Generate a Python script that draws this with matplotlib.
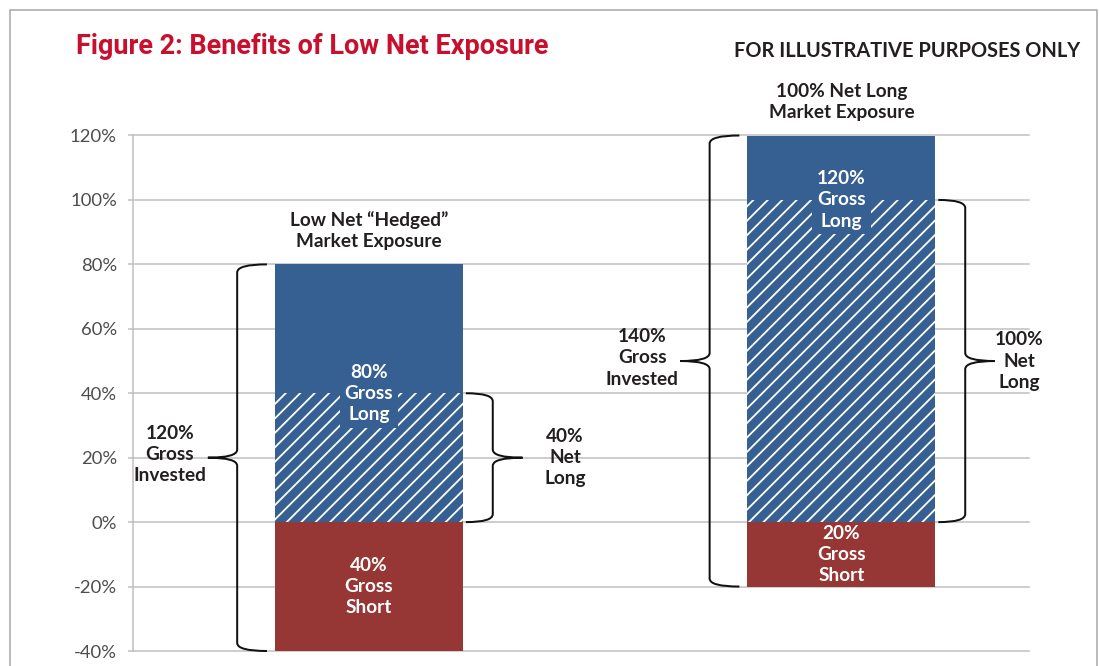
import numpy as np
import matplotlib
matplotlib.use('Agg')
import matplotlib.pyplot as plt
from matplotlib.path import Path
from matplotlib.patches import PathPatch, Rectangle

# donnees
strategies = ['Low Net \u201cHedged\u201d\nMarket Exposure', '100% Net Long\nMarket Exposure']
gross_long = np.array([80, 120])
gross_short = np.array([40, 20])
net_long = gross_long - gross_short
gross_invested = gross_long + gross_short
y_ticks = [-40, -20, 0, 20, 40, 60, 80, 100, 120]

DPI = 130
PT = 72 / DPI  # points par pixel

BLUE = '#376092'
RED = '#963735'
TITLE_RED = '#c8102e'
GRID = '#bfbfbf'
INK = '#231f20'

plt.rcParams['font.family'] = ['Lato', 'DejaVu Sans']
plt.rcParams['hatch.linewidth'] = 1.8 * PT


def brace(ax, x_end, x_line, x_tip, y0, y1, r):
    ym = (y0 + y1) / 2
    verts = [(x_end, y1), (x_line, y1), (x_line, y1 - r),
             (x_line, ym + r),
             (x_line, ym), (x_tip, ym),
             (x_line, ym), (x_line, ym - r),
             (x_line, y0 + r),
             (x_line, y0), (x_end, y0)]
    codes = [Path.MOVETO, Path.CURVE3, Path.CURVE3,
             Path.LINETO,
             Path.CURVE3, Path.CURVE3,
             Path.CURVE3, Path.CURVE3,
             Path.LINETO,
             Path.CURVE3, Path.CURVE3]
    ax.add_patch(PathPatch(Path(verts, codes), fill=False, edgecolor='#111111',
                           lw=2 * PT, capstyle='butt', zorder=5, clip_on=False))


fig = plt.figure(figsize=(1099 / DPI, 666 / DPI), dpi=DPI)
ax = fig.add_axes([133 / 1099, 1 - 651 / 666, 896 / 1099, 515.5 / 666])

x = np.arange(len(strategies))
width = 0.398
ax.bar(x, net_long, width, color=BLUE, hatch='///', edgecolor='white', linewidth=0, zorder=2)
ax.bar(x, gross_long - net_long, width, bottom=net_long, color=BLUE, linewidth=0, zorder=2)
ax.bar(x, -gross_short, width, color=RED, linewidth=0, zorder=2)

ax.set_xlim(-0.4995, 1.397)
ax.set_ylim(-40, 120)
ax.set_yticks(y_ticks)
ax.set_yticklabels([f'{v}%' for v in y_ticks])
ax.set_xticks([])
ax.grid(axis='y', color=GRID, lw=1.5 * PT)
ax.set_axisbelow(True)
for gl in ax.get_ygridlines():
    gl.set_clip_on(False)
for s in ['top', 'right', 'bottom']:
    ax.spines[s].set_visible(False)
ax.spines['left'].set_color(GRID)
ax.spines['left'].set_linewidth(1.5 * PT)
ax.tick_params(axis='y', length=5 * PT, width=1.5 * PT, color=GRID, pad=11 * PT,
               labelsize=18.5 * PT, labelcolor='#4d4d4d')

fs = 19 * PT
ls = 1.3
right_off = [0.415, 0.376]
for i in x:
    # etiquettes dans les barres
    ax.text(i, net_long[i], f'{gross_long[i]}%\nGross\nLong', ha='center', va='center',
            color='white', fontsize=fs, fontweight='bold', linespacing=ls, zorder=4,
            bbox=dict(boxstyle='square,pad=0.25', fc=BLUE, ec='none'))
    ax.text(i, -gross_short[i] / 2, f'{gross_short[i]}%\nGross\nShort', ha='center',
            va='center', color='white', fontsize=fs, fontweight='bold', linespacing=ls, zorder=4)
    # accolades
    top, bot = gross_long[i], -gross_short[i]
    brace(ax, i - 0.216, i - 0.279, i - 0.341, bot, top, 2.5)
    brace(ax, i + 0.205, i + 0.262, i + 0.325, 0, net_long[i], 2.5)
    ax.text(i - 0.422, (top + bot) / 2 + 1, f'{gross_invested[i]}%\nGross\nInvested',
            ha='center', va='center', color=INK, fontsize=fs, fontweight='bold', linespacing=ls)
    ax.text(i + right_off[i], net_long[i] / 2, f'{net_long[i]}%\nNet\nLong',
            ha='center', va='center', color=INK, fontsize=fs, fontweight='bold', linespacing=ls)
    ax.text(i, top + 4.5, strategies[i], ha='center', va='bottom', color=INK,
            fontsize=fs, fontweight='bold', linespacing=ls)

fig.text(76 / 1099, 1 - 54 / 666, 'Figure 2: Benefits of Low Net Exposure', ha='left',
         va='baseline', color=TITLE_RED, fontsize=27 * PT, fontweight='bold',
         family=['Liberation Sans Narrow', 'Roboto', 'DejaVu Sans'])
fig.text(1080 / 1099, 1 - 57 / 666, 'FOR ILLUSTRATIVE PURPOSES ONLY', ha='right',
         va='baseline', color=INK, fontsize=20 * PT, fontweight='bold')

# cadre
fig.patches.append(Rectangle((10 / 1099, -0.05), 1087 / 1099, 1.05 - 10 / 666,
                             transform=fig.transFigure, fill=False, edgecolor='#a6a6a6',
                             lw=1.5 * PT))

fig.savefig('out.png', dpi=DPI)
